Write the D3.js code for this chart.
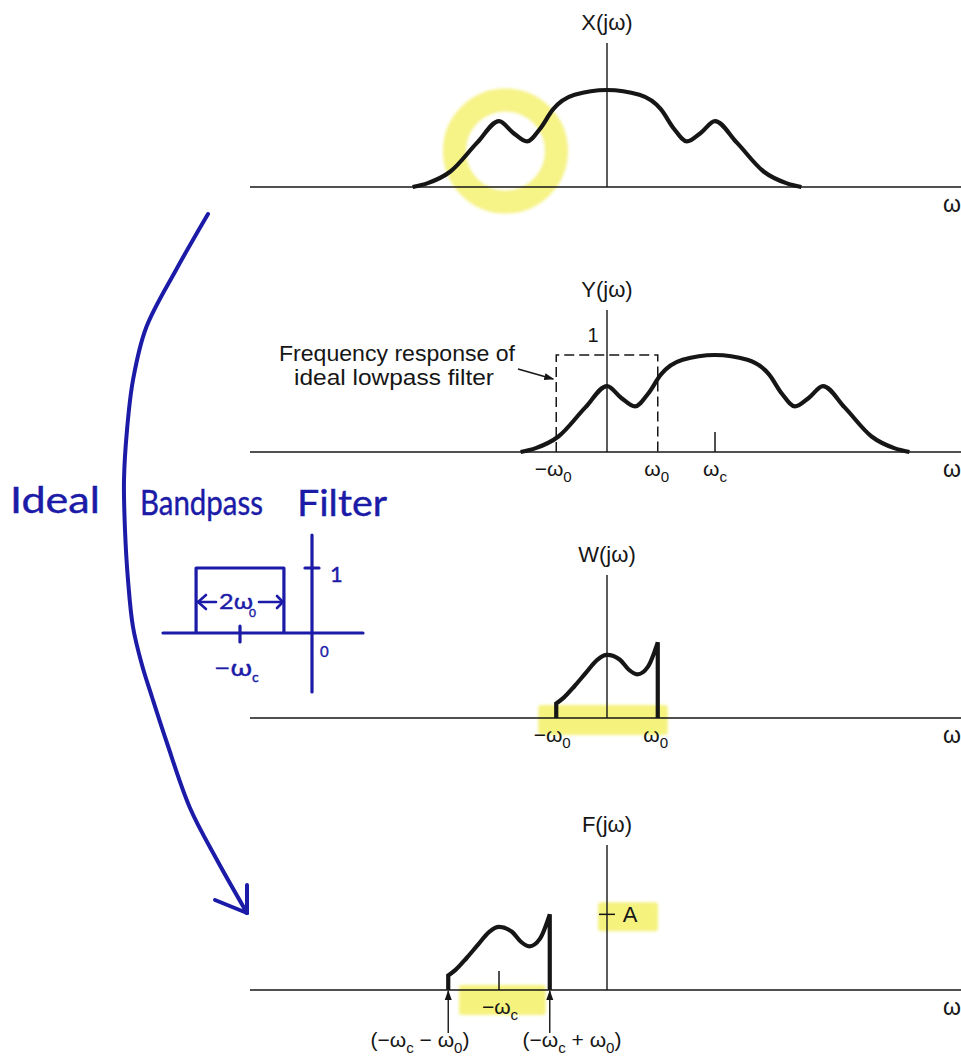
<!DOCTYPE html>
<html>
<head>
<meta charset="utf-8">
<script src="https://cdn.jsdelivr.net/npm/d3@7"></script>
<style>
  html, body { margin: 0; padding: 0; background: #fff; }
  svg { display: block; }
</style>
</head>
<body>
<script>
// |X(jω)|: ω in units of ωc, magnitude relative to the ideal filter gain of 1
const spectrumOmega = [-1.8, -1.66, -1.45, -1.2, -1.0, -0.87, -0.74, -0.62, -0.5, -0.3, 0,
                        0.3, 0.5, 0.62, 0.74, 0.87, 1.0, 1.2, 1.45, 1.66, 1.8];
const spectrumMag   = [0, 0.04, 0.16, 0.46, 0.68, 0.56, 0.47, 0.6, 0.8, 0.95, 1.0,
                        0.95, 0.8, 0.6, 0.47, 0.56, 0.68, 0.46, 0.16, 0.04, 0];
const omegaC = 1;
const omega0 = 0.47;
const filterGain = 1;

// part of Y(jω) kept by the lowpass filter (|ω| < ω0)
const passOmega = [-0.47, -0.4, -0.3, -0.2, -0.09, 0, 0.12, 0.2, 0.28, 0.38, 0.47];
const passMag   = [0.15, 0.21, 0.33, 0.46, 0.6, 0.65, 0.6, 0.5, 0.45, 0.53, 0.78];
const impulseA  = 0.78;

// handwritten bandpass sketch: centre −ωc, width 2ω0, gain 1
const sketchCentre = -1;
const sketchHalfWidth = 0.61;

const W = 961, H = 1060;
const svg = d3.select("body").append("svg").attr("width", W).attr("height", H);
const defs = svg.append("defs");

const ink = "#161616";
const blue = "#1b1ba8";
const hiYellow = "#f3ef5e";
const font = "'Liberation Sans', Arial, Helvetica, sans-serif";

const x = d3.scaleLinear().domain([0, 1]).range([607, 715]);
const axisLeft = 250, axisRight = 961;

const panels = [
  { name: "X", base: 187, top: 43 },
  { name: "Y", base: 452, top: 310 },
  { name: "W", base: 718, top: 575 },
  { name: "F", base: 990, top: 845 }
];
panels.forEach(p => {
  p.y = d3.scaleLinear().domain([0, 1]).range([p.base, p.base - 97]);
});
const [pX, pY, pW, pF] = panels;

const spectrum = spectrumOmega.map((w, i) => [w, spectrumMag[i]]);
const passband = passOmega.map((w, i) => [w, passMag[i]]);

const hl = svg.append("g").attr("class", "highlights");
const marks = svg.append("g").attr("class", "marks");
const notes = svg.append("g").attr("class", "notes");

// ---------- highlighter strokes ----------
const blur = defs.append("filter").attr("id", "soft")
  .attr("x", "-20%").attr("y", "-20%").attr("width", "140%").attr("height", "140%");
blur.append("feGaussianBlur").attr("stdDeviation", 1.4);

hl.append("ellipse")
  .attr("cx", x(-0.94)).attr("cy", 151).attr("rx", 51).attr("ry", 51)
  .attr("fill", "none").attr("stroke", hiYellow).attr("stroke-width", 23)
  .attr("opacity", 0.75).attr("filter", "url(#soft)");

function hiRect(x0, x1, y0, y1) {
  hl.append("rect").attr("x", x0).attr("y", y0)
    .attr("width", x1 - x0).attr("height", y1 - y0).attr("rx", 3)
    .attr("fill", hiYellow).attr("opacity", 0.8).attr("filter", "url(#soft)");
}
hiRect(x(-omega0) - 18, x(omega0) + 10, pW.base - 13, pW.base + 17);
hiRect(x(-omegaC) - 40, x(-omegaC + omega0) - 4, pF.base - 5, pF.base + 25);
hiRect(x(0) - 9, x(0) + 51, pF.y(impulseA) - 12, pF.y(impulseA) + 17);

// ---------- text helper with subscripts ----------
function mathText(g, px, py, parts, size, anchor) {
  const t = g.append("text").attr("x", px).attr("y", py)
    .attr("font-family", font).attr("font-size", size)
    .attr("fill", ink).attr("text-anchor", anchor || "middle");
  let down = false;
  parts.forEach(([s, sub]) => {
    const ts = t.append("tspan").text(s);
    if (sub && !down) { ts.attr("font-size", size * 0.72).attr("dy", size * 0.28); down = true; }
    else if (!sub && down) { ts.attr("dy", -size * 0.28); down = false; }
    else if (sub) ts.attr("font-size", size * 0.72);
  });
  return t;
}

// ---------- axes ----------
panels.forEach(p => {
  marks.append("line")
    .attr("x1", axisLeft).attr("x2", axisRight)
    .attr("y1", p.base).attr("y2", p.base)
    .attr("stroke", ink).attr("stroke-width", 1.7);
  marks.append("line")
    .attr("x1", x(0)).attr("x2", x(0))
    .attr("y1", p.top).attr("y2", p.base)
    .attr("stroke", ink).attr("stroke-width", 1.4);
  mathText(marks, x(0), p.top - 13, [[p.name + "(jω)", false]], 22);
  mathText(marks, 943, p.base + 25, [["ω", false]], 23, "start");
});

// ---------- curves ----------
function curvePath(data, shift, yScale) {
  return d3.line()
    .x(d => x(d[0] + shift))
    .y(d => yScale(d[1]))
    .curve(d3.curveMonotoneX)(data);
}
function thick(d) {
  marks.append("path").attr("d", d)
    .attr("fill", "none").attr("stroke", ink)
    .attr("stroke-width", 4.2).attr("stroke-linejoin", "miter")
    .attr("stroke-linecap", "butt");
}

// X(jω)
thick(curvePath(spectrum, 0, pX.y));

// Y(jω): spectrum moved to ωc
thick(curvePath(spectrum, omegaC, pY.y));

// ideal lowpass filter (dashed)
marks.append("path")
  .attr("d", d3.line()([
    [x(-omega0), pY.y(0)], [x(-omega0), pY.y(filterGain)],
    [x(omega0), pY.y(filterGain)], [x(omega0), pY.y(0)]
  ]))
  .attr("fill", "none").attr("stroke", ink)
  .attr("stroke-width", 1.5).attr("stroke-dasharray", "10,5");
mathText(marks, x(0) - 14, pY.y(filterGain) - 13, [["1", false]], 20);

// ωc tick
marks.append("line").attr("x1", x(omegaC)).attr("x2", x(omegaC))
  .attr("y1", pY.base).attr("y2", pY.base - 20)
  .attr("stroke", ink).attr("stroke-width", 1.5);

mathText(marks, x(-omega0) - 3, pY.base + 24, [["−ω", false], ["0", true]], 21);
mathText(marks, x(omega0) - 1, pY.base + 24, [["ω", false], ["0", true]], 21);
mathText(marks, x(omegaC), pY.base + 24, [["ω", false], ["c", true]], 21);

// annotation for the filter
const ann = marks.append("g").attr("font-family", font).attr("font-size", 22)
  .attr("fill", ink).attr("text-anchor", "middle");
ann.append("text").attr("x", 397).attr("y", 361)
  .attr("textLength", 236).attr("lengthAdjust", "spacingAndGlyphs").text("Frequency response of");
ann.append("text").attr("x", 394).attr("y", 385)
  .attr("textLength", 200).attr("lengthAdjust", "spacingAndGlyphs").text("ideal lowpass filter");

defs.append("marker").attr("id", "head").attr("viewBox", "0 0 10 10")
  .attr("refX", 9).attr("refY", 5).attr("markerWidth", 10).attr("markerHeight", 10)
  .attr("markerUnits", "userSpaceOnUse").attr("orient", "auto")
  .append("path").attr("d", "M0,1.5L10,5L0,8.5Z").attr("fill", ink);

marks.append("line").attr("x1", 518).attr("y1", 369)
  .attr("x2", x(-omega0) - 3).attr("y2", 379)
  .attr("stroke", ink).attr("stroke-width", 1.5).attr("marker-end", "url(#head)");

// passband shape with vertical cut edges
function bandPath(shift, yScale) {
  const top = curvePath(passband, shift, yScale);
  return `M${x(passOmega[0] + shift)},${yScale(0)}L` + top.slice(1) +
         `L${x(passOmega[passOmega.length - 1] + shift)},${yScale(0)}`;
}

// W(jω)
thick(bandPath(0, pW.y));
mathText(marks, x(-omega0) - 4, pW.base + 24, [["−ω", false], ["0", true]], 21);
mathText(marks, x(omega0) - 2, pW.base + 24, [["ω", false], ["0", true]], 21);

// F(jω): passband moved to −ωc
thick(bandPath(-omegaC, pF.y));
marks.append("line").attr("x1", x(-omegaC)).attr("x2", x(-omegaC))
  .attr("y1", pF.base).attr("y2", pF.base - 19)
  .attr("stroke", ink).attr("stroke-width", 1.5);
mathText(marks, x(-omegaC) + 1, pF.base + 24, [["−ω", false], ["c", true]], 21);

// A tick
marks.append("line").attr("x1", x(0) - 8).attr("x2", x(0) + 8)
  .attr("y1", pF.y(impulseA)).attr("y2", pF.y(impulseA))
  .attr("stroke", ink).attr("stroke-width", 1.5);
mathText(marks, x(0) + 23, pF.y(impulseA) + 8, [["A", false]], 22);

// edge arrows
[[-omegaC - omega0, 420, [["(−ω", false], ["c", true], [" − ω", false], ["0", true], [")", false]]],
 [-omegaC + omega0, 572, [["(−ω", false], ["c", true], [" + ω", false], ["0", true], [")", false]]]]
  .forEach(([w, lx, parts]) => {
    marks.append("line").attr("x1", x(w)).attr("x2", x(w))
      .attr("y1", pF.base + 43).attr("y2", pF.base + 1)
      .attr("stroke", ink).attr("stroke-width", 1.4).attr("marker-end", "url(#head)");
    mathText(marks, lx, pF.base + 57, parts, 21);
  });

// ---------- handwritten notes ----------
function hand(txt, px, py, size, len) {
  const t = notes.append("text").attr("x", px).attr("y", py)
    .attr("font-family", "Lato, 'Noto Sans', sans-serif").attr("font-size", size)
    .attr("font-weight", 400)
    .attr("fill", blue).attr("stroke", blue).attr("stroke-width", 0.4)
    .text(txt);
  if (len) t.attr("textLength", len).attr("lengthAdjust", "spacingAndGlyphs");
  return t;
}
hand("Ideal", 10, 513, 36, 90);
hand("Bandpass", 140, 515, 34, 123);
hand("Filter", 297, 516, 36, 90);

// sketch axes
const sx = d3.scaleLinear().domain([0, 1]).range([312, 384]);
const sy = d3.scaleLinear().domain([0, 1]).range([633, 568]);
function bl(x1, y1, x2, y2, w) {
  notes.append("line").attr("x1", x1).attr("y1", y1).attr("x2", x2).attr("y2", y2)
    .attr("stroke", blue).attr("stroke-width", w || 3.2).attr("stroke-linecap", "round");
}
bl(163, sy(0), 363, sy(0));
bl(sx(0), 535, sx(0), 692);
bl(sx(0) - 7, sy(1), sx(0) + 7, sy(1));
notes.append("path")
  .attr("d", d3.line()([
    [sx(sketchCentre - sketchHalfWidth), sy(0)], [sx(sketchCentre - sketchHalfWidth), sy(1)],
    [sx(sketchCentre + sketchHalfWidth), sy(1)], [sx(sketchCentre + sketchHalfWidth), sy(0)]
  ]))
  .attr("fill", "none").attr("stroke", blue).attr("stroke-width", 3.2).attr("stroke-linejoin", "round");
bl(sx(sketchCentre), sy(0) - 7, sx(sketchCentre), sy(0) + 9);

// 2ω0 width arrows
const ay = 602;
bl(sx(sketchCentre - sketchHalfWidth) + 2, ay, 216, ay, 2.6);
bl(sx(sketchCentre - sketchHalfWidth) + 2, ay, 206, ay - 7, 2.6);
bl(sx(sketchCentre - sketchHalfWidth) + 2, ay, 206, ay + 7, 2.6);
bl(259, ay, sx(sketchCentre + sketchHalfWidth) - 1, ay, 2.6);
bl(sx(sketchCentre + sketchHalfWidth) - 1, ay, 277, ay - 6, 2.6);
bl(sx(sketchCentre + sketchHalfWidth) - 1, ay, 277, ay + 6, 2.6);
hand("2ω", 219, 609, 22, 34);
hand("0", 249, 617, 12);

hand("1", 330, 582, 22);
hand("0", 320, 657, 15);
hand("−ω", 214, 676, 24, 38);
hand("c", 252, 682, 14);

// curved arrow down the left margin
const arrowPts = [[208, 214], [176, 270], [146, 328], [133, 380], [127, 430], [124, 480],
                  [125, 530], [128, 580], [133, 627], [142, 665], [152, 697], [167, 743],
                  [190, 808], [217, 860], [247, 913]];
notes.append("path")
  .attr("d", d3.line().curve(d3.curveCatmullRom)(arrowPts))
  .attr("fill", "none").attr("stroke", blue).attr("stroke-width", 4).attr("stroke-linecap", "round");
bl(215, 900, 247, 913, 4);
bl(247, 885, 247, 913, 4);
</script>
</body>
</html>
